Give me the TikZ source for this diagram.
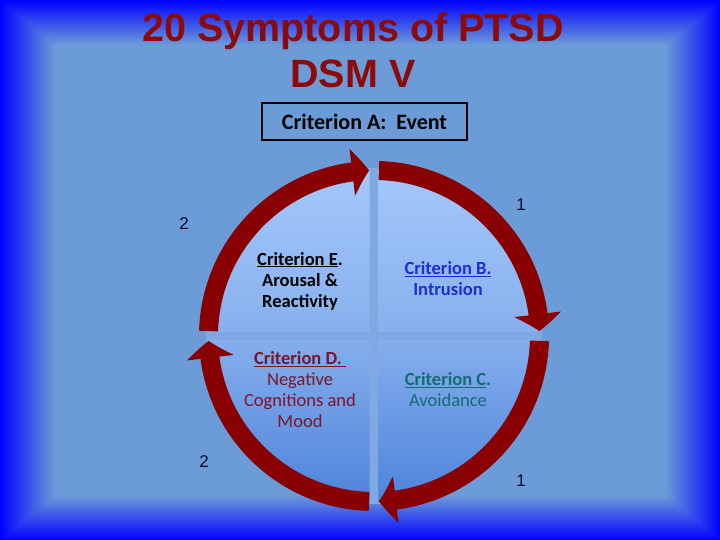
\documentclass[tikz,border=0pt]{standalone}
\usepackage{fontspec}
\setmainfont{Liberation Sans}
\newfontfamily\calibri{Carlito}
\usepackage{tikz}
\usetikzlibrary{arrows.meta,bending,positioning}
\definecolor{frameblue}{HTML}{0000FF}
\definecolor{slideblue}{HTML}{6C9CD8}
\definecolor{gapblue}{HTML}{80A9E4}
\definecolor{paneltop}{HTML}{A4C8FC}
\definecolor{panelmid}{HTML}{86AFEC}
\definecolor{panellow}{HTML}{4E84DC}
\definecolor{cycred}{HTML}{880000}
\definecolor{titlered}{HTML}{8C0A0A}
\definecolor{numnavy}{HTML}{0A0A28}
\definecolor{critblue}{HTML}{1F2FD0}
\definecolor{critred}{HTML}{7E1428}
\definecolor{critteal}{HTML}{146C74}

\begin{document}
\begin{tikzpicture}[x=1pt,y=1pt,
    cyc/.style={line width=19pt,color=cycred,-{Triangle[width=46pt,length=17pt,bend]}},
    crit/.style={font=\calibri\fontsize{18.5}{21}\selectfont,align=center},
    num/.style={font=\fontsize{17}{20}\selectfont,text=numnavy},
    title/.style={font=\bfseries\fontsize{39.5}{46}\selectfont,text=titlered,anchor=base}]
  \useasboundingbox (0,0) rectangle (720,540);
  % slide background with bevelled frame
  \fill[frameblue] (0,0) rectangle (720,540);
  \shade[top color=frameblue,bottom color=slideblue] (0,540) -- (720,540) -- (665,495) -- (55,495) -- cycle;
  \shade[bottom color=frameblue,top color=slideblue] (0,0) -- (720,0) -- (665,45) -- (55,45) -- cycle;
  \shade[left color=frameblue,right color=slideblue] (0,0) -- (0,540) -- (55,495) -- (55,45) -- cycle;
  \shade[right color=frameblue,left color=slideblue] (720,0) -- (720,540) -- (665,495) -- (665,45) -- cycle;
  \fill[slideblue] (55,45) rectangle (665,495);

  \node[title] (title) at (353,498) {20 Symptoms of PTSD};
  \node[title] (dsm) at (353,452) {DSM V};
  \node[draw=black,line width=2pt,minimum width=205pt,minimum height=37pt,
        font=\calibri\bfseries\fontsize{22}{26}\selectfont] (critA) at (364.5,418.5) {Criterion A:\ \ Event};

  % quadrants
  \coordinate (c) at (374,204);
  \fill[gapblue] (c) circle[radius=168pt];
  \shade[top color=paneltop,bottom color=panelmid] (c) ++(-4.5,4) -- ++(-162,0) arc[start angle=180,end angle=90,radius=162pt] -- cycle;
  \shade[top color=paneltop,bottom color=panelmid] (c) ++(4.5,4) -- ++(0,162) arc[start angle=90,end angle=0,radius=162pt] -- cycle;
  \shade[top color=panelmid,bottom color=panellow] (c) ++(-4.5,-4) -- ++(-162,0) arc[start angle=180,end angle=270,radius=162pt] -- cycle;
  \shade[top color=panelmid,bottom color=panellow] (c) ++(4.5,-4) -- ++(0,-162) arc[start angle=270,end angle=360,radius=162pt] -- cycle;

  % cycle arrows
  \draw[cyc] (c) ++(178.3:165.5pt) arc[start angle=178.3,end angle=91.7,radius=165.5pt];
  \draw[cyc] (c) ++(88.3:165.5pt) arc[start angle=88.3,end angle=1.7,radius=165.5pt];
  \draw[cyc] (c) ++(-1.7:165.5pt) arc[start angle=-1.7,end angle=-88.3,radius=165.5pt];
  \draw[cyc] (c) ++(-91.7:165.5pt) arc[start angle=-91.7,end angle=-178.3,radius=165.5pt];

  \node[num] (oneup) at (521,335) {1};
  \node[num] (twoup) at (184,316) {2};
  \node[num] (twolow) at (204,78) {2};
  \node[num] (onelow) at (521,59) {1};

  \node[crit,text=black] (critE) at (300,259) {\textbf{\underline{Criterion E}.}\\\textbf{Arousal \&}\\\textbf{Reactivity}};
  \node[crit,text=critblue] (critB) at (448,261) {\textbf{\underline{Criterion B.}}\\\textbf{Intrusion}};
  \node[crit,text=critred] (critD) at (300,150) {\textbf{\underline{Criterion D.\ }}\\Negative\\Cognitions and\\Mood};
  \node[crit,text=critteal] (critC) at (448,150) {\textbf{\underline{Criterion C}.}\\Avoidance};
\end{tikzpicture}
\end{document}
